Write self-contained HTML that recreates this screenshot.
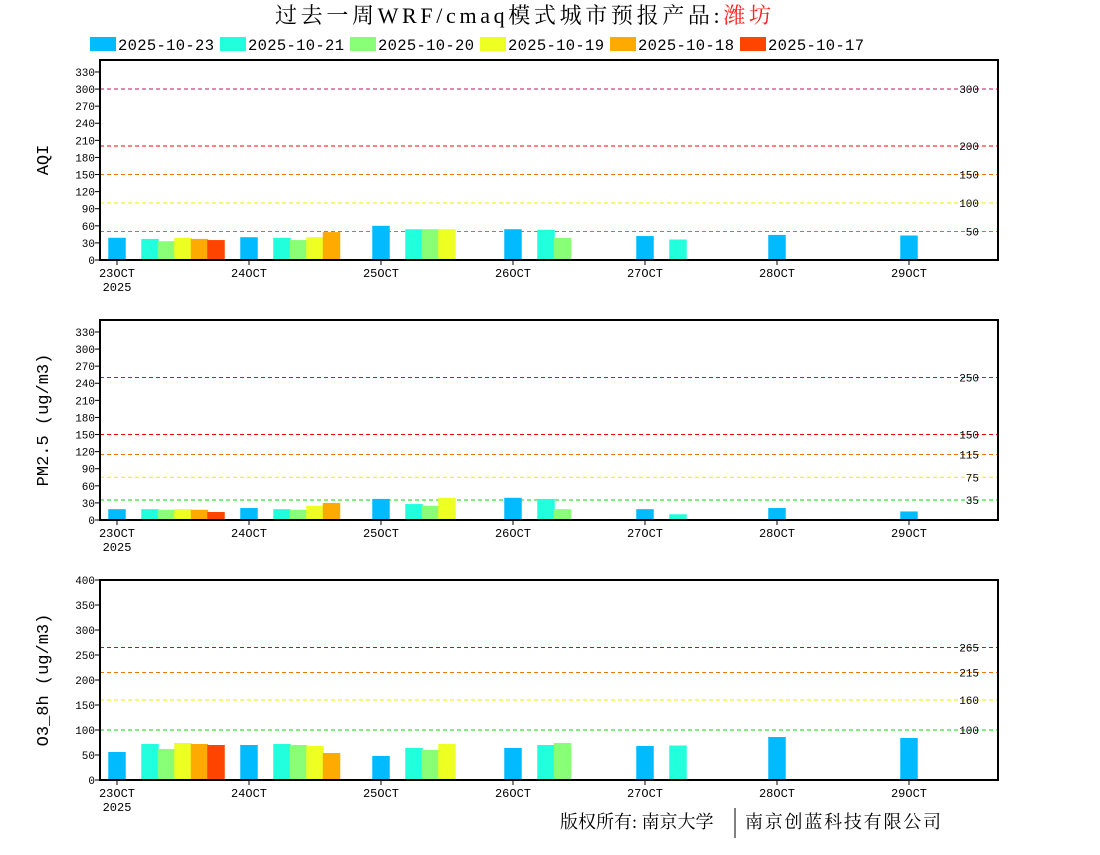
<!DOCTYPE html>
<html><head><meta charset="utf-8">
<style>
html,body{margin:0;padding:0;background:#fff;}
body{width:1100px;height:850px;overflow:hidden;}
svg text{font-family:"Liberation Mono","Noto Sans CJK SC",monospace;}
svg text.serif{font-family:"Liberation Serif","Noto Serif CJK SC",serif;}
svg text.cjk{font-family:"Liberation Serif","Noto Serif CJK SC",serif;}
</style></head>
<body>
<svg id="c" width="1100" height="850" xmlns="http://www.w3.org/2000/svg">
<text class="serif" x="523" y="23" text-anchor="middle" font-size="22" textLength="496">过去一周WRF/cmaq模式城市预报产品:<tspan fill="#ff2222">潍坊</tspan></text>
<g id="legend"></g>
<g id="panels"></g>
<text class="cjk" x="560" y="828" font-size="18">版权所有: 南京大学</text>
<line x1="735" y1="808" x2="735" y2="838" stroke="#000" stroke-width="1"/>
<text class="cjk" x="745" y="828" font-size="18" textLength="196">南京创蓝科技有限公司</text>
</svg>
<script>
const seriesNames = ["2025-10-23","2025-10-21","2025-10-20","2025-10-19","2025-10-18","2025-10-17"];
const seriesColors = ["#00bbff","#22ffdd","#88ff77","#eeff22","#ffaa00","#ff4400"];
const seriesSlots = [0,2,3,4,5,6];
const dayLabels = ["23OCT","24OCT","25OCT","26OCT","27OCT","28OCT","29OCT"];
const aqi23 = [39,40,60,54,42,44,43];
const aqi21 = [37,39,54,53,36,null,null];
const aqi20 = [33,35,54,39,null,null,null];
const aqi19 = [39,40,54,null,null,null,null];
const aqi18 = [37,49,null,null,null,null,null];
const aqi17 = [35,null,null,null,null,null,null];
const pm23 = [19,21,37,39,19,21,15];
const pm21 = [19,19,28,37,10,null,null];
const pm20 = [18,18,25,19,null,null,null];
const pm19 = [19,25,39,null,null,null,null];
const pm18 = [18,30,null,null,null,null,null];
const pm17 = [14,null,null,null,null,null,null];
const o323 = [56,70,48,64,68,86,84];
const o321 = [72,72,64,70,69,null,null];
const o320 = [62,70,60,74,null,null,null];
const o319 = [74,68,72,null,null,null,null];
const o318 = [72,54,null,null,null,null,null];
const o317 = [70,null,null,null,null,null,null];
const aqiTicks = [0,30,60,90,120,150,180,210,240,270,300,330];
const pmTicks = [0,30,60,90,120,150,180,210,240,270,300,330];
const o3Ticks = [0,50,100,150,200,250,300,350,400];
const aqiRefVals = [300,200,150,100,50];
const aqiRefCols = ["#c01060","#ff0000","#ee7700","#eeee00","#00dd00"];
const pmRefVals = [250,150,115,75,35];
const pmRefCols = ["#dd0077","#ee0000","#ee7700","#eeee00","#00dd00"];
const o3RefVals = [265,215,160,100];
const o3RefCols = ["#ee0000","#ee7700","#eeee00","#00dd00"];

const NS="http://www.w3.org/2000/svg";
const svg=document.getElementById('c');
function mk(tag,attrs,parent){const e=document.createElementNS(NS,tag);for(const k in attrs)e.setAttribute(k,attrs[k]);(parent||svg).appendChild(e);return e;}

const lg=document.getElementById('legend');
seriesNames.forEach((n,i)=>{
  const x=90+i*130;
  const r=mk('rect',{x:x,y:37,width:26,height:14,fill:seriesColors[i]},lg);
  
  
  const t=mk('text',{x:x+28,y:50,'font-size':15.5,textLength:96},lg);
  t.textContent=n;
  
  
});

const X0=100,X1=998,DAY0=117,DAYW=132,SLOT=16.5,BW=17.5;
function xDay(d){return DAY0+d*DAYW;}
function drawPanel(name,top,bottom,ymax,ticks,series,refV,refC,ylabel){
  const g=mk('g',{},document.getElementById('panels'));
  
  
  const y=v=>bottom-v*(bottom-top)/ymax;
  refV.forEach((v,i)=>{
    const l=mk('line',{x1:X0,x2:X1,y1:y(v),y2:y(v),stroke:refC[i],'stroke-width':1,'stroke-dasharray':'4,3'},g);
    
    
    const t=mk('text',{x:979,y:y(v)+4,'font-size':11,'text-anchor':'end'},g);
    t.textContent=v;
    
    
  });
  series.forEach((vals,si)=>{
    vals.forEach((v,d)=>{
      if(v==null)return;
      const cx=xDay(d)+seriesSlots[si]*SLOT;
      const r=mk('rect',{x:cx-BW/2,y:y(v),width:BW,height:bottom-y(v),fill:seriesColors[si]},g);
      
      
    });
  });
  const f=mk('rect',{x:X0,y:top,width:X1-X0,height:bottom-top,fill:'none',stroke:'#000','stroke-width':2},g);
  
  
  ticks.forEach(v=>{
    mk('line',{x1:X0-5,x2:X0,y1:y(v),y2:y(v),stroke:'#000'},g);
    const t=mk('text',{x:X0-5,y:y(v)+4,'font-size':11,'text-anchor':'end'},g);
    t.textContent=v;
    
    
  });
  dayLabels.forEach((s,d)=>{
    mk('line',{x1:xDay(d),x2:xDay(d),y1:bottom,y2:bottom+5,stroke:'#000'},g);
    const t=mk('text',{x:xDay(d),y:bottom+17,'font-size':12,'text-anchor':'middle'},g);
    t.textContent=s;
    
    
  });
  const yr=mk('text',{x:xDay(0),y:bottom+31,'font-size':12,'text-anchor':'middle'},g);
  yr.textContent='2025';
  
  
  const yl=mk('text',{x:0,y:0,'font-size':17,'text-anchor':'middle',transform:`translate(48,${(top+bottom)/2}) rotate(-90)`},g);
  yl.textContent=ylabel;
  
  
}
drawPanel('aqi',60,260,351,aqiTicks,[aqi23,aqi21,aqi20,aqi19,aqi18,aqi17],aqiRefVals,aqiRefCols,'AQI');
drawPanel('pm25',320,520,351,pmTicks,[pm23,pm21,pm20,pm19,pm18,pm17],pmRefVals,pmRefCols,'PM2.5 (ug/m3)');
drawPanel('o3',580,780,400,o3Ticks,[o323,o321,o320,o319,o318,o317],o3RefVals,o3RefCols,'O3_8h (ug/m3)');
</script>
</body></html>
